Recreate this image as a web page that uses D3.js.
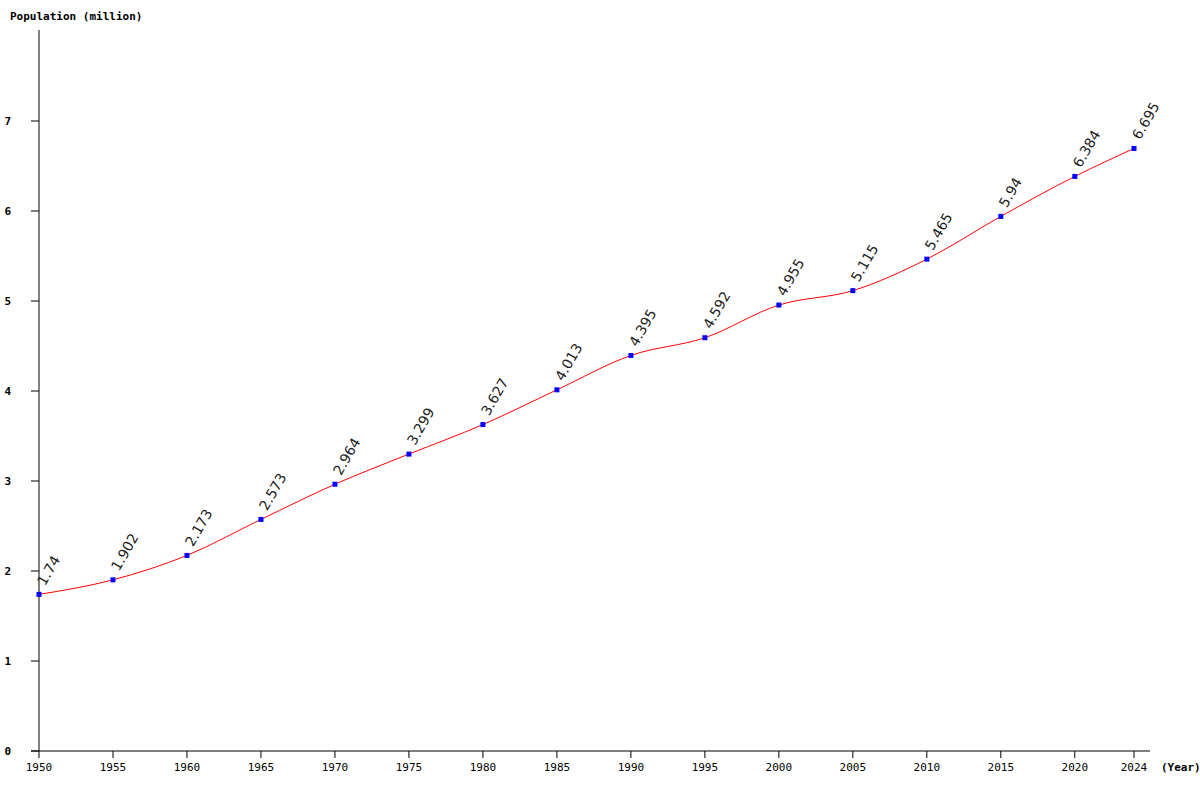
<!DOCTYPE html>
<html><head><meta charset="utf-8">
<script src="https://cdn.jsdelivr.net/npm/d3@7"></script>
<style>body{margin:0;background:#fff}</style></head>
<body><svg id="chart" width="1200" height="800"></svg>
<script>
const years = [1950,1955,1960,1965,1970,1975,1980,1985,1990,1995,2000,2005,2010,2015,2020,2024];
const population = [1.74,1.902,2.173,2.573,2.964,3.299,3.627,4.013,4.395,4.592,4.955,5.115,5.465,5.94,6.384,6.695];
const yTicks = [0,1,2,3,4,5,6,7];

const svg = d3.select("#chart");
const x = d3.scaleLinear().domain([1950, 2024]).range([39, 1134]);
const y = d3.scaleLinear().domain([0, 8]).range([751, 31]);
const mono = "'DejaVu Sans Mono', monospace";

// axes
svg.append("line").attr("x1", 39).attr("x2", 39).attr("y1", 30).attr("y2", 751).attr("stroke", "#000");
svg.append("line").attr("x1", 31).attr("x2", 1150).attr("y1", 751).attr("y2", 751).attr("stroke", "#000");

yTicks.forEach(t => {
  svg.append("line").attr("x1", 31).attr("x2", 39).attr("y1", y(t)).attr("y2", y(t)).attr("stroke", "#000");
  svg.append("text").attr("x", 10).attr("y", y(t) + 4).text(t)
    .attr("font-family", mono).attr("font-weight", "bold").attr("font-size", 11).attr("text-anchor", "end").attr("dx", 0)
    .attr("x", 11);
});
years.forEach(yr => {
  svg.append("line").attr("x1", x(yr)).attr("x2", x(yr)).attr("y1", 751).attr("y2", 758).attr("stroke", "#000");
  svg.append("text").attr("x", x(yr)).attr("y", 771).text(yr)
    .attr("font-family", mono).attr("font-size", 11).attr("text-anchor", "middle");
});

svg.append("text").attr("x", 10).attr("y", 20).text("Population (million)")
  .attr("font-family", mono).attr("font-weight", "bold").attr("font-size", 11);
svg.append("text").attr("x", 1161).attr("y", 771).text("(Year)")
  .attr("font-family", mono).attr("font-weight", "bold").attr("font-size", 11);

const data = years.map((yr, i) => ({ yr, v: population[i] }));

svg.append("path").datum(data)
  .attr("d", d3.line().x(d => x(d.yr)).y(d => y(d.v)).curve(d3.curveMonotoneX))
  .attr("fill", "none").attr("stroke", "red").attr("stroke-width", 1);

svg.selectAll("rect.pt").data(data).enter().append("rect")
  .attr("x", d => x(d.yr) - 2.5).attr("y", d => y(d.v) - 2.5)
  .attr("width", 5).attr("height", 5).attr("fill", "blue");

svg.selectAll("text.val").data(data).enter().append("text")
  .attr("transform", d => `translate(${x(d.yr) + 6},${y(d.v) - 8}) rotate(-60)`)
  .text(d => d.v)
  .attr("font-family", "'DejaVu Sans', sans-serif").attr("font-size", 14).attr("fill", "#222");
</script></body></html>
